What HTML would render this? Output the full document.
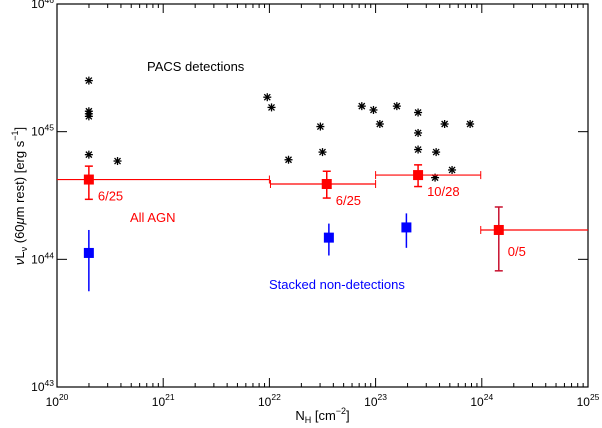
<!DOCTYPE html>
<html><head><meta charset="utf-8"><style>
body{margin:0;background:#fff}
svg{display:block;font-family:"Liberation Sans",sans-serif}
</style></head><body>
<svg id="c" width="602" height="428" viewBox="0 0 602 428"></svg>
<script>
const detX=[20.30,20.30,20.30,20.30,20.30,20.57,21.98,22.02,22.18,22.48,22.50,22.87,22.98,23.04,23.20,23.40,23.40,23.40,23.57,23.65,23.72,23.56,23.89];
const detY=[45.40,45.16,45.12,45.14,44.82,44.77,45.27,45.19,44.78,45.04,44.84,45.20,45.17,45.06,45.20,45.15,44.99,44.86,44.84,45.06,44.70,44.64,45.06];
const allX=[20.30,22.54,23.40,24.16];
const allY=[44.625,44.59,44.66,44.23];
const allHi=[44.73,44.69,44.74,44.41];
const allLo=[44.47,44.48,44.57,43.91];
const allXmin=[20.0,22.01,23.0,23.99];
const allXmax=[22.0,23.0,23.99,25.0];
const allLabels=["6/25","6/25","10/28","0/5"];
const stX=[20.30,22.56,23.29];
const stY=[44.05,44.17,44.25];
const stHi=[44.23,44.28,44.36];
const stLo=[43.75,44.03,44.09];
const xTicks=[20,21,22,23,24,25];
const yTicks=[43,44,45,46];

const L=57,R=588,T=4,B=387;
const sx=v=>L+(v-20)/5*(R-L);
const sy=v=>B-(v-43)/3*(B-T);
const svg=document.getElementById('c');
const NS='http://www.w3.org/2000/svg';
function mk(tag,attrs,name,parent){const e=document.createElementNS(NS,tag);for(const k in attrs)e.setAttribute(k,attrs[k]);


(parent||svg).appendChild(e);return e;}
function ln(x1,y1,x2,y2,col,w,name,p){return mk('line',{x1,y1,x2,y2,stroke:col,'stroke-width':w||1},name,p);}

mk('rect',{x:L,y:T,width:R-L,height:B-T,fill:'none',stroke:'#000','stroke-width':1.2},'plot-frame');
xTicks.forEach((t,i)=>{const x=sx(t);
 ln(x,B,x,B-9,'#000',1,'x-major-tick');ln(x,T,x,T+9,'#000',1,'x-major-tick-top');
 const tx=mk('text',{x:x,y:B+19,'font-size':12,'text-anchor':'middle'},'x-tick-label');
 tx.innerHTML='10<tspan dy="-6" font-size="8.5">'+t+'</tspan>';
 if(i<xTicks.length-1){for(let m=2;m<10;m++){const xm=sx(t+Math.log10(m));
  ln(xm,B,xm,B-4,'#000',1,'x-minor-tick');ln(xm,T,xm,T+4,'#000',1,'x-minor-tick-top');}}
});
yTicks.forEach(t=>{const y=sy(t);
 ln(L,y,L+10,y,'#000',1,'y-major-tick');ln(R,y,R-10,y,'#000',1,'y-major-tick-right');
 const tx=mk('text',{x:L-3,y:y+4,'font-size':12,'text-anchor':'end'},'y-tick-label');
 tx.innerHTML='10<tspan dy="-5" font-size="8.5">'+t+'</tspan>';
});
const xt=mk('text',{x:(L+R)/2,y:420,'font-size':13,'text-anchor':'middle'},'x-axis-title');
xt.innerHTML='N<tspan dy="3" font-size="9">H</tspan><tspan dy="-3"> [cm</tspan><tspan dy="-6" font-size="9">−2</tspan><tspan dy="6">]</tspan>';
const yt=mk('text',{x:0,y:0,'font-size':13,'text-anchor':'middle',transform:'translate(24,196) rotate(-90)'},'y-axis-title');
yt.innerHTML='<tspan font-style="italic">ν</tspan>L<tspan dy="3" font-size="9">ν</tspan><tspan dy="-3"> (60</tspan><tspan font-style="italic">μ</tspan>m rest) [erg s<tspan dy="-6" font-size="9">−1</tspan><tspan dy="6">]</tspan>';

const g=mk('g',{},'pacs-detections');
detX.forEach((v,i)=>{const x=sx(v),y=sy(detY[i]),r=4;const s=mk('g',{},'detection-point',g);
 ln(x-r,y,x+r,y,'#000',1.3,'star-stroke',s);ln(x,y-r,x,y+r,'#000',1.3,'star-stroke',s);
 ln(x-3,y-3,x+3,y+3,'#000',1.3,'star-stroke',s);ln(x-3,y+3,x+3,y-3,'#000',1.3,'star-stroke',s);});

allX.forEach((v,i)=>{const gg=mk('g',{},'all-agn-point');
 const x=sx(v),y=sy(allY[i]),x1=sx(allXmin[i]),x2=sx(allXmax[i]);
 ln(x1,y,x2,y,'#ff0000',1.2,'x-range-bar',gg);
 if(allXmin[i]>20)ln(x1,y-4,x1,y+4,'#f00',1,'x-range-cap',gg);
 if(allXmax[i]<25)ln(x2,y-4,x2,y+4,'#f00',1,'x-range-cap',gg);
 const col=i===3?'#c8102e':'#f00';
 ln(x,sy(allHi[i]),x,sy(allLo[i]),col,1.5,'error-bar',gg);
 ln(x-4,sy(allHi[i]),x+4,sy(allHi[i]),col,1.5,'error-cap',gg);
 ln(x-4,sy(allLo[i]),x+4,sy(allLo[i]),col,1.5,'error-cap',gg);
 mk('rect',{x:x-5,y:y-5,width:10,height:10,fill:'#f00'},'marker',gg);
 mk('text',{x:x+9,y:y+(i===3?26:21),'font-size':13,fill:'#f00'},'count-label',gg).textContent=allLabels[i];
});
stX.forEach((v,i)=>{const gg=mk('g',{},'stacked-point');const x=sx(v),y=sy(stY[i]);
 ln(x,sy(stHi[i]),x,sy(stLo[i]),'#00f',1.5,'error-bar',gg);
 mk('rect',{x:x-5,y:y-5,width:10,height:10,fill:'#00f'},'marker',gg);});

mk('text',{x:147,y:71,'font-size':13},'pacs-label').textContent='PACS detections';
mk('text',{x:130,y:222,'font-size':13,fill:'#f00'},'all-agn-label').textContent='All AGN';
mk('text',{x:269,y:289,'font-size':13,fill:'#00f'},'stacked-label').textContent='Stacked non-detections';
</script>
</body></html>
